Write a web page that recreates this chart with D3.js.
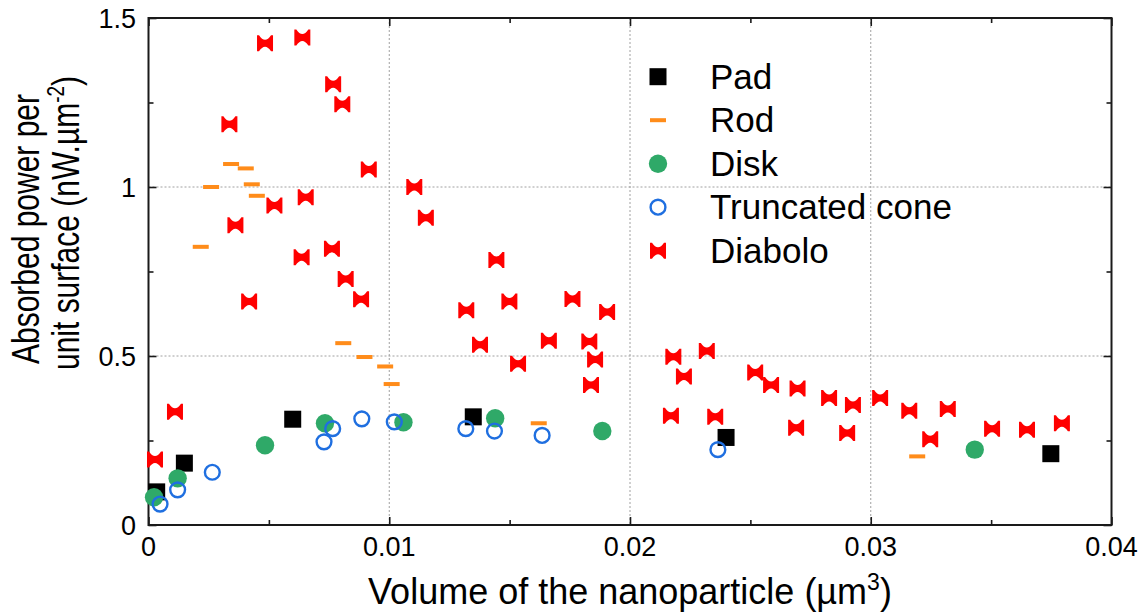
<!DOCTYPE html>
<html><head><meta charset="utf-8">
<script src="https://cdn.jsdelivr.net/npm/d3@7/dist/d3.min.js"></script>
<style>body{margin:0;background:#fff}svg{display:block;font-family:"Liberation Sans",Arial,sans-serif}</style>
</head><body><svg id="c" width="1146" height="616"></svg>
<script>
// ---- data ----
const xTickValues = [0, 0.01, 0.02, 0.03, 0.04];
const xTickLabels = ["0", "0.01", "0.02", "0.03", "0.04"];
const yTickValues = [0, 0.5, 1, 1.5];
const yTickLabels = ["0", "0.5", "1", "1.5"];
const seriesNames = ["Pad", "Rod", "Disk", "Truncated cone", "Diabolo"];

const padX = [0.00034, 0.00149, 0.00599, 0.01349, 0.02399, 0.03748];
const padY = [0.098, 0.183, 0.313, 0.320, 0.259, 0.211];

const rodX = [0.00217, 0.0026, 0.00343, 0.00404, 0.00429, 0.0045, 0.00809, 0.00897, 0.00983, 0.0101, 0.01621, 0.03193];
const rodY = [0.823, 1.0, 1.068, 1.055, 1.008, 0.974, 0.538, 0.497, 0.469, 0.417, 0.301, 0.203];

const diskX = [0.00023, 0.00121, 0.00484, 0.00733, 0.01059, 0.0144, 0.01885, 0.03432];
const diskY = [0.082, 0.138, 0.236, 0.301, 0.304, 0.316, 0.278, 0.223];

const coneX = [0.00048, 0.00121, 0.00265, 0.00729, 0.00765, 0.00886, 0.01021, 0.01318, 0.01437, 0.01635, 0.02365];
const coneY = [0.062, 0.104, 0.156, 0.246, 0.285, 0.314, 0.305, 0.285, 0.278, 0.265, 0.223];

const diaboloX = [0.00027, 0.0011, 0.00336, 0.00361, 0.00418, 0.00484, 0.00523, 0.00639, 0.00653, 0.00636,
  0.00767, 0.00762, 0.00805, 0.00819, 0.00883, 0.00915, 0.01104, 0.01152, 0.0132, 0.01377,
  0.01445, 0.01499, 0.01535, 0.01663, 0.01761, 0.01831, 0.01855, 0.01838, 0.01905, 0.0218,
  0.02224, 0.0217, 0.02319, 0.02354, 0.0252, 0.02586, 0.02696, 0.0269, 0.02827, 0.02902,
  0.02926, 0.03039, 0.0316, 0.03247, 0.0332, 0.03504, 0.03649, 0.03794];
const diaboloY = [0.194, 0.335, 1.186, 0.887, 0.661, 1.425, 0.945, 1.442, 0.970, 0.792,
  1.304, 0.817, 1.245, 0.728, 0.668, 1.052, 1.0, 0.909, 0.635, 0.533,
  0.784, 0.661, 0.477, 0.545, 0.669, 0.543, 0.490, 0.414, 0.630, 0.498,
  0.439, 0.323, 0.515, 0.320, 0.451, 0.414, 0.404, 0.288, 0.376, 0.272,
  0.355, 0.376, 0.338, 0.254, 0.343, 0.285, 0.282, 0.301];

// ---- layout ----
const svg = d3.select("#c");
const L = 148.5, R = 1111.5, T = 18, B = 525;
const x = d3.scaleLinear().domain([0, 0.04]).range([L, R]);
const y = d3.scaleLinear().domain([0, 1.5]).range([B, T]);

const colors = {Pad: "#000000", Rod: "#ff8c1a", Disk: "#2fa968", "Truncated cone": "#1f6fe0", Diabolo: "#ff0000"};

// grid
const grid = svg.append("g").attr("stroke", "#a0a0a0").attr("stroke-width", 1).attr("stroke-dasharray", "2,2");
grid.selectAll(".gx").data([0.01, 0.02, 0.03]).enter().append("line")
  .attr("x1", d => x(d)).attr("x2", d => x(d)).attr("y1", T).attr("y2", B);
grid.selectAll(".gy").data([0.5, 1.0]).enter().append("line")
  .attr("x1", L).attr("x2", R).attr("y1", d => y(d)).attr("y2", d => y(d));

// axes with inward ticks
const xMinor = d3.range(0.005, 0.04, 0.01);
const yMinor = [0.25, 0.75, 1.25];
function styleAxis(g){ g.select(".domain").remove(); g.selectAll("line").attr("stroke", "#1a1a1a").attr("stroke-width", 1.6); g.selectAll("text").remove(); }
svg.append("g").attr("transform", `translate(0,${B})`).call(d3.axisBottom(x).tickValues(xTickValues).tickSize(-8)).call(styleAxis);
svg.append("g").attr("transform", `translate(0,${B})`).call(d3.axisBottom(x).tickValues(xMinor).tickSize(-5)).call(styleAxis);
svg.append("g").attr("transform", `translate(0,${T})`).call(d3.axisTop(x).tickValues(xTickValues).tickSize(-8)).call(styleAxis);
svg.append("g").attr("transform", `translate(0,${T})`).call(d3.axisTop(x).tickValues(xMinor).tickSize(-5)).call(styleAxis);
svg.append("g").attr("transform", `translate(${L},0)`).call(d3.axisLeft(y).tickValues(yTickValues).tickSize(-8)).call(styleAxis);
svg.append("g").attr("transform", `translate(${L},0)`).call(d3.axisLeft(y).tickValues(yMinor).tickSize(-5)).call(styleAxis);
svg.append("g").attr("transform", `translate(${R},0)`).call(d3.axisRight(y).tickValues(yTickValues).tickSize(-8)).call(styleAxis);
svg.append("g").attr("transform", `translate(${R},0)`).call(d3.axisRight(y).tickValues(yMinor).tickSize(-5)).call(styleAxis);

svg.append("rect").attr("x", L).attr("y", T).attr("width", R - L).attr("height", B - T)
  .attr("fill", "none").attr("stroke", "#1a1a1a").attr("stroke-width", 2);

// tick labels
svg.append("g").selectAll("text").data(xTickValues).enter().append("text")
  .attr("x", d => x(d)).attr("y", 556).attr("text-anchor", "middle")
  .attr("font-size", 27).attr("fill", "#000").text((d, i) => xTickLabels[i]);
svg.append("g").selectAll("text").data(yTickValues).enter().append("text")
  .attr("x", 136).attr("y", d => y(d) + 9.5).attr("text-anchor", "end")
  .attr("font-size", 27).attr("fill", "#000").text((d, i) => yTickLabels[i]);

// axis titles
const xt = svg.append("text").attr("x", (L + R) / 2).attr("y", 604).attr("text-anchor", "middle")
  .attr("font-size", 36).attr("fill", "#000");
xt.append("tspan").text("Volume of the nanoparticle (µm");
xt.append("tspan").attr("font-size", 23).attr("dy", -14).text("3");
xt.append("tspan").attr("dy", 14).text(")");

const yt = svg.append("text").attr("transform", "translate(39,229) scale(1.28,1) rotate(-90)").attr("text-anchor", "middle")
  .attr("font-size", 30).attr("fill", "#000").text("Absorbed power per");
const yt2 = svg.append("text").attr("transform", "translate(79,223) scale(1.28,1) rotate(-90)").attr("text-anchor", "middle")
  .attr("font-size", 30).attr("fill", "#000");
yt2.append("tspan").text("unit surface (nW.µm");
yt2.append("tspan").attr("font-size", 19).attr("dy", -12).text("-2");
yt2.append("tspan").attr("dy", 12).text(")");

// markers
const diaboloPath = "M-8,-8 L-6,-8 Q0,1 6,-8 L8,-8 L8,8 L6,8 Q0,-1 -6,8 L-8,8 Z";
function drawMarker(g, name){
  if (name === "Pad") g.append("rect").attr("x", -8.5).attr("y", -8.5).attr("width", 17).attr("height", 17).attr("fill", colors.Pad);
  else if (name === "Rod") g.append("rect").attr("x", -8).attr("y", -2).attr("width", 16).attr("height", 4).attr("fill", colors.Rod);
  else if (name === "Disk") g.append("circle").attr("r", 9.2).attr("fill", colors.Disk);
  else if (name === "Truncated cone") g.append("circle").attr("r", 7.4).attr("fill", "none").attr("stroke", colors["Truncated cone"]).attr("stroke-width", 2.4);
  else g.append("path").attr("d", diaboloPath).attr("fill", colors.Diabolo);
}
function plotSeries(name, xs, ys){
  const g = svg.append("g");
  xs.forEach((v, i) => {
    const m = g.append("g").attr("transform", `translate(${x(v)},${y(ys[i])})`);
    drawMarker(m, name);
  });
}
plotSeries("Pad", padX, padY);
plotSeries("Rod", rodX, rodY);
plotSeries("Diabolo", diaboloX, diaboloY);
plotSeries("Disk", diskX, diskY);
plotSeries("Truncated cone", coneX, coneY);

// legend
const leg = svg.append("g");
seriesNames.forEach((n, i) => {
  const cy = 76.7 + i * 43.5;
  const m = leg.append("g").attr("transform", `translate(658,${cy})`);
  drawMarker(m, n);
  leg.append("text").attr("x", 710).attr("y", cy + 12).attr("font-size", 35).attr("fill", "#000").text(n);
});
</script></body></html>
